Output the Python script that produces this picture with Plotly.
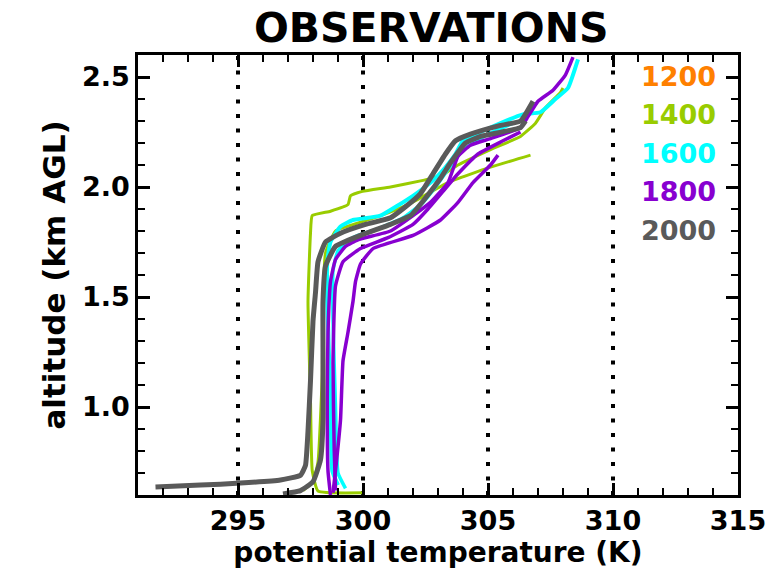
import plotly.graph_objects as go

# ---------------- data ----------------
times = ["1200", "1400", "1600", "1800", "2000"]
colors = {"1200": "#FF8000", "1400": "#99CC00", "1600": "#00FFFF",
          "1800": "#8800D0", "2000": "#5A5A5A"}
ref_lines = [295, 300, 305, 310]

# 1400 profiles
g1_theta = [300.0, 298.2, 297.97, 297.9, 297.8, 297.9, 297.97, 298.7, 299.4, 299.5, 299.98,
            301.1, 302.4, 303.1, 303.8, 305.1, 306.3, 306.9, 307.3, 307.9, 308.0]
g1_z = [0.61, 0.618, 0.71, 1.03, 1.48, 1.79, 1.87, 1.89, 1.92, 1.96, 1.98,
        2.00, 2.03, 2.05, 2.10, 2.17, 2.23, 2.29, 2.36, 2.43, 2.45]
g2_theta = [297.6, 298.0, 298.2, 298.37, 298.4, 298.5, 298.9, 299.9, 300.7, 301.8, 303.4,
            305.1, 306.7]
g2_z = [0.62, 0.66, 0.75, 1.15, 1.48, 1.70, 1.80, 1.84, 1.87, 1.92, 2.02,
        2.09, 2.145]

# 1600 profiles
c1_theta = [299.0, 298.77, 298.7, 298.57, 298.57, 298.7, 299.1, 299.6, 300.7, 302.0, 302.8,
            303.3, 303.7, 304.0, 305.1, 306.4, 307.1, 307.7, 308.2, 308.6]
c1_z = [0.645, 0.71, 1.03, 1.48, 1.66, 1.75, 1.82, 1.85, 1.87, 1.96, 2.03,
        2.09, 2.15, 2.21, 2.27, 2.33, 2.34, 2.40, 2.45, 2.58]
c2_theta = [299.3, 299.0, 298.9, 298.8, 298.8, 299.0, 299.6, 300.6, 301.6, 302.4, 302.9,
            303.4, 304.0, 305.0, 306.0]
c2_z = [0.63, 0.70, 1.00, 1.40, 1.62, 1.71, 1.77, 1.81, 1.86, 1.93, 2.00,
        2.08, 2.17, 2.24, 2.29]

# 1800 profiles
p1_theta = [298.7, 298.6, 298.57, 298.6, 298.7, 298.9, 299.3, 299.8, 301.1, 302.0, 302.7,
            303.4, 303.8, 304.3, 305.1, 306.3, 306.6, 307.0, 307.6, 308.1, 308.4]
p1_z = [0.60, 0.71, 1.03, 1.34, 1.57, 1.67, 1.73, 1.76, 1.80, 1.87, 1.93,
        2.02, 2.14, 2.19, 2.22, 2.27, 2.32, 2.39, 2.44, 2.51, 2.59]
p2_theta = [298.8, 298.9, 299.1, 299.2, 299.4, 299.6, 299.7, 299.9, 300.4, 302.0, 303.1,
            303.8, 304.4, 305.1, 305.4]
p2_z = [0.61, 0.71, 0.94, 1.21, 1.34, 1.48, 1.57, 1.65, 1.72, 1.78, 1.85,
        1.93, 2.02, 2.10, 2.145]
p3_theta = [298.9, 298.85, 298.8, 298.9, 299.2, 299.9, 301.0, 302.0, 302.6, 303.2, 303.8,
            304.6, 305.6, 306.3]
p3_z = [0.62, 0.80, 1.20, 1.55, 1.66, 1.72, 1.77, 1.83, 1.90, 1.98, 2.06,
        2.15, 2.21, 2.25]

# 2000 profiles
k1_theta = [291.7, 293.5, 295.1, 296.7, 297.5, 297.7, 297.8, 297.9, 298.0, 298.1, 298.2,
            298.5, 299.1, 300.1, 301.1, 301.7, 302.3, 302.8, 303.3, 303.7, 304.3,
            305.5, 306.3, 306.8]
k1_z = [0.636, 0.645, 0.654, 0.668, 0.69, 0.735, 0.89, 1.12, 1.39, 1.52, 1.66,
        1.75, 1.79, 1.83, 1.86, 1.91, 1.97, 2.06, 2.15, 2.21, 2.24,
        2.28, 2.30, 2.39]
k2_theta = [296.8, 297.5, 298.0, 298.3, 298.4, 298.4, 298.4, 298.5, 298.9, 299.9, 301.1,
            301.9, 302.5, 303.1, 303.5, 304.1, 304.7, 306.3, 306.5]
k2_z = [0.605, 0.62, 0.66, 0.76, 0.94, 1.25, 1.48, 1.64, 1.73, 1.78, 1.83,
        1.87, 1.95, 2.04, 2.11, 2.20, 2.23, 2.27, 2.30]

profiles = [
    ("1400", g1_theta, g1_z, 3),
    ("1400", g2_theta, g2_z, 3),
    ("1600", c1_theta, c1_z, 4),
    ("1600", c2_theta, c2_z, 3.5),
    ("1800", p1_theta, p1_z, 3.5),
    ("1800", p2_theta, p2_z, 3.5),
    ("1800", p3_theta, p3_z, 3.5),
    ("2000", k1_theta, k1_z, 5),
    ("2000", k2_theta, k2_z, 5),
]

FONT = "DejaVu Sans"

fig = go.Figure()

for xv in ref_lines:
    fig.add_shape(type="line", x0=xv, x1=xv, y0=0, y1=1, xref="x", yref="paper",
                  line=dict(color="black", width=4, dash="4px,10.5px"), layer="below")

for t, xs, zs, w in profiles:
    fig.add_trace(go.Scatter(x=xs, y=zs, mode="lines", name=t, showlegend=False,
                             line=dict(color=colors[t], width=w, shape="spline", smoothing=0.4)))

for i, t in enumerate(times):
    fig.add_annotation(text="<b>%s</b>" % t, xref="paper", yref="paper",
                       x=0.967, y=0.952 - i * 0.0875, xanchor="right", yanchor="middle",
                       showarrow=False, font=dict(family=FONT, size=27, color=colors[t]))

fig.update_layout(
    width=777, height=582,
    margin=dict(l=138, r=39, t=55, b=87),
    plot_bgcolor="white", paper_bgcolor="white",
    title=dict(text="<b>OBSERVATIONS</b>", x=0.555, xanchor="center", y=0.953, yanchor="middle",
               font=dict(family=FONT, size=41, color="black")),
    font=dict(family=FONT, color="black"),
    showlegend=False,
)
fig.update_xaxes(range=[291, 315], tickmode="linear", tick0=295, dtick=5,
                 ticks="inside", ticklen=12, tickwidth=2.5, tickcolor="black",
                 minor=dict(dtick=1, ticks="inside", ticklen=7, tickwidth=2, tickcolor="black"),
                 showline=True, linecolor="black", linewidth=2.5, mirror="allticks",
                 showgrid=False, zeroline=False,
                 tickfont=dict(family=FONT, size=27, color="black"),
                 tickprefix="<b>", ticksuffix="</b>",
                 title=dict(text="<b>potential temperature (K)</b>", standoff=6,
                            font=dict(family=FONT, size=28, color="black")))
fig.update_yaxes(range=[0.6, 2.6], tickmode="linear", tick0=0.5, dtick=0.5,
                 tickformat=".1f",
                 ticks="inside", ticklen=12, tickwidth=2.5, tickcolor="black",
                 minor=dict(dtick=0.1, ticks="inside", ticklen=7, tickwidth=2, tickcolor="black"),
                 showline=True, linecolor="black", linewidth=2.5, mirror="allticks",
                 showgrid=False, zeroline=False,
                 tickfont=dict(family=FONT, size=27, color="black"),
                 tickprefix="<b>", ticksuffix="</b>",
                 title=dict(text="<b>altitude (km AGL)</b>", standoff=8,
                            font=dict(family=FONT, size=31, color="black")))

fig.write_html("out.html")
